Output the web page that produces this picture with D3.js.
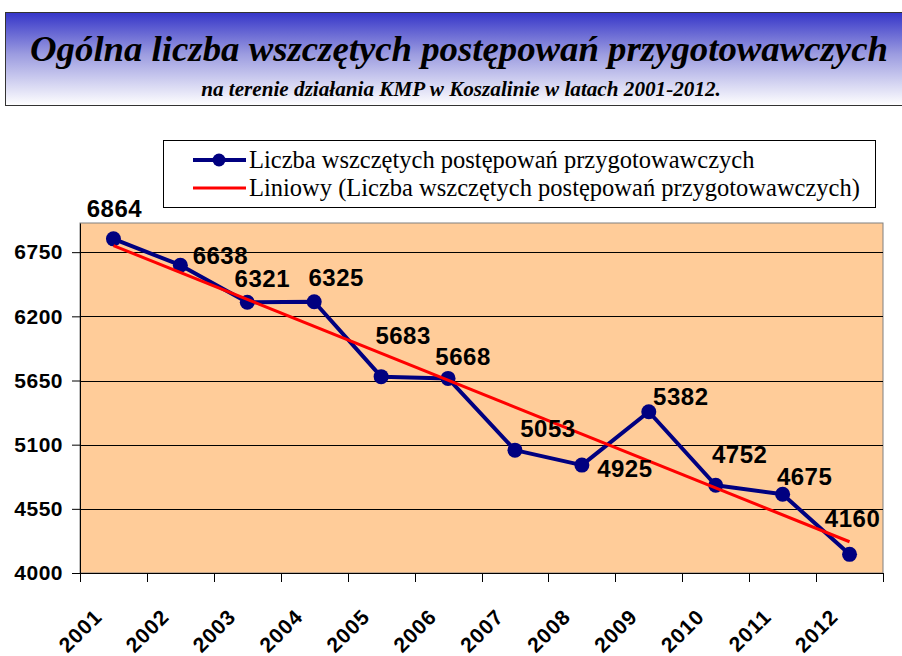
<!DOCTYPE html>
<html>
<head>
<meta charset="utf-8">
<script src="https://cdn.jsdelivr.net/npm/d3@7"></script>
<style>
  body { margin: 0; background: #fff; }
  svg { display: block; }
</style>
</head>
<body>
<script>
// data
const years = ["2001", "2002", "2003", "2004", "2005", "2006",
               "2007", "2008", "2009", "2010", "2011", "2012"];
const counts = [6864, 6638, 6321, 6325, 5683, 5668, 5053, 4925, 5382, 4752, 4675, 4160];
const yTicks = [4000, 4550, 5100, 5650, 6200, 6750];

const titleText = "Ogólna liczba wszczętych postępowań przygotowawczych";
const subtitleText = "na terenie działania KMP w Koszalinie w latach 2001-2012.";
const seriesName = "Liczba wszczętych postępowań przygotowawczych";
const trendName = "Liniowy (Liczba wszczętych postępowań przygotowawczych)";

// label placement relative to each point (dx = label centre, dy = baseline)
const labelOffsets = [[1, -22], [40, -1], [15, -15], [22, -16], [22, -33], [15, -13],
                      [33, -13], [43, 12], [32, -7], [24, -22], [22, -9], [3, -27]];

const width = 902, height = 656;
const plot = { left: 80, right: 883, top: 223, bottom: 573 };

const svg = d3.select("body").append("svg")
  .attr("width", width)
  .attr("height", height);

// title box with gradient
const defs = svg.append("defs");
const grad = defs.append("linearGradient")
  .attr("id", "titleGrad")
  .attr("x1", 0).attr("y1", 0).attr("x2", 0).attr("y2", 1);
grad.append("stop").attr("offset", "0%").attr("stop-color", "#3535c8");
grad.append("stop").attr("offset", "45%").attr("stop-color", "#9c9ce0");
grad.append("stop").attr("offset", "100%").attr("stop-color", "#ffffff");

svg.append("rect")
  .attr("x", 5.5).attr("y", 12.5)
  .attr("width", 910).attr("height", 93)
  .attr("fill", "url(#titleGrad)")
  .attr("stroke", "#333")
  .attr("stroke-width", 1);

// fit a title to a given width by scaling its font size
function fitText(sel, w, size) {
  sel.style("font-size", size + "px");
  const natural = sel.node().getComputedTextLength();
  sel.style("font-size", (size * w / natural).toFixed(2) + "px");
}

const title = svg.append("text")
  .attr("x", 459).attr("y", 61)
  .attr("text-anchor", "middle")
  .style("font-family", "'Liberation Serif', 'Times New Roman', serif")
  .style("font-style", "italic")
  .style("font-weight", "bold")
  .text(titleText);
fitText(title, 858, 38);

const subtitle = svg.append("text")
  .attr("x", 461).attr("y", 96)
  .attr("text-anchor", "middle")
  .style("font-family", "'Liberation Serif', 'Times New Roman', serif")
  .style("font-style", "italic")
  .style("font-weight", "bold")
  .text(subtitleText);
fitText(subtitle, 520, 20);

// scales
const x = d3.scaleBand()
  .domain(years)
  .range([plot.left, plot.right]);

const y = d3.scaleLinear()
  .domain([4000, 7000])
  .range([plot.bottom, plot.top]);

const cx = d => x(d) + x.bandwidth() / 2;

// plot area
svg.append("rect")
  .attr("x", plot.left).attr("y", plot.top)
  .attr("width", plot.right - plot.left)
  .attr("height", plot.bottom - plot.top)
  .attr("fill", "#ffcc99")
  .attr("stroke", "#808080")
  .attr("stroke-width", 1);

// gridlines
svg.append("g")
  .selectAll("line")
  .data(yTicks.filter(t => t > 4000))
  .join("line")
  .attr("x1", plot.left).attr("x2", plot.right)
  .attr("y1", d => Math.round(y(d)) + 0.5)
  .attr("y2", d => Math.round(y(d)) + 0.5)
  .attr("stroke", "#000")
  .attr("stroke-width", 1);

// y axis
const yAxis = svg.append("g")
  .attr("transform", `translate(${plot.left},0)`)
  .call(d3.axisLeft(y).tickValues(yTicks).tickFormat(d3.format("d"))
    .tickSize(8).tickPadding(9).tickSizeOuter(0));
yAxis.select(".domain").attr("stroke", "#000");
yAxis.selectAll(".tick line").attr("stroke", "#000");
yAxis.selectAll(".tick text")
  .attr("fill", "#000")
  .style("font-family", "'Liberation Sans', Arial, sans-serif")
  .style("font-weight", "bold")
  .style("font-size", "21px")
  .style("letter-spacing", "0.5px");

// x axis: ticks on category boundaries
const xAxisG = svg.append("g");
xAxisG.append("line")
  .attr("x1", plot.left).attr("x2", plot.right)
  .attr("y1", plot.bottom + 0.5).attr("y2", plot.bottom + 0.5)
  .attr("stroke", "#000");
xAxisG.selectAll("line.tick")
  .data(years.concat([null]))
  .join("line")
  .attr("class", "tick")
  .attr("x1", d => Math.round(d ? x(d) : plot.right) + 0.5)
  .attr("x2", d => Math.round(d ? x(d) : plot.right) + 0.5)
  .attr("y1", plot.bottom).attr("y2", plot.bottom + 9)
  .attr("stroke", "#000");
xAxisG.selectAll("text")
  .data(years)
  .join("text")
  .attr("transform", d => `translate(${cx(d) - 10},${plot.bottom + 45}) rotate(-45)`)
  .attr("text-anchor", "end")
  .style("font-family", "'Liberation Sans', Arial, sans-serif")
  .style("font-weight", "bold")
  .style("font-size", "21px")
  .style("letter-spacing", "1px")
  .text(d => d);

// linear trend
const n = counts.length;
const xs = d3.range(1, n + 1);
const mx = d3.mean(xs), my = d3.mean(counts);
const slope = d3.sum(xs, (v, i) => (v - mx) * (counts[i] - my)) / d3.sum(xs, v => (v - mx) ** 2);
const intercept = my - slope * mx;
const trend = [1, n].map(i => ({ year: years[i - 1], value: intercept + slope * i }));

// series line
const line = d3.line()
  .x(d => cx(d.year))
  .y(d => y(d.value));

const series = years.map((yr, i) => ({ year: yr, value: counts[i] }));

svg.append("path")
  .datum(series)
  .attr("fill", "none")
  .attr("stroke", "#000080")
  .attr("stroke-width", 4)
  .attr("stroke-linejoin", "round")
  .attr("d", line);

svg.append("g")
  .selectAll("circle")
  .data(series)
  .join("circle")
  .attr("cx", d => cx(d.year))
  .attr("cy", d => y(d.value))
  .attr("r", 7.5)
  .attr("fill", "#000080");

svg.append("path")
  .datum(trend)
  .attr("fill", "none")
  .attr("stroke", "#ff0000")
  .attr("stroke-width", 3)
  .attr("d", line);

// data labels
svg.append("g")
  .selectAll("text")
  .data(series)
  .join("text")
  .attr("x", (d, i) => cx(d.year) + labelOffsets[i][0])
  .attr("y", (d, i) => y(d.value) + labelOffsets[i][1])
  .attr("text-anchor", "middle")
  .style("font-family", "'Liberation Sans', Arial, sans-serif")
  .style("font-weight", "bold")
  .style("font-size", "24px")
  .style("letter-spacing", "0.5px")
  .text(d => d.value);

// legend
const legend = svg.append("g");
legend.append("rect")
  .attr("x", 163.5).attr("y", 140.5)
  .attr("width", 712).attr("height", 67)
  .attr("fill", "#fff")
  .attr("stroke", "#000");

const legendItems = [
  { name: seriesName, color: "#000080", width: 4, marker: true },
  { name: trendName, color: "#ff0000", width: 3, marker: false }
];

const rows = legend.selectAll("g.row")
  .data(legendItems)
  .join("g")
  .attr("class", "row")
  .attr("transform", (d, i) => `translate(0,${160 + i * 28})`);

rows.append("line")
  .attr("x1", 193).attr("x2", 246)
  .attr("stroke", d => d.color)
  .attr("stroke-width", d => d.width);

rows.filter(d => d.marker).append("circle")
  .attr("cx", 219).attr("r", 6.5)
  .attr("fill", "#000080");

rows.append("text")
  .attr("x", 249).attr("y", 8)
  .style("font-family", "'Liberation Serif', 'Times New Roman', serif")
  .style("font-size", "24.5px")
  .text(d => d.name);
</script>
</body>
</html>
